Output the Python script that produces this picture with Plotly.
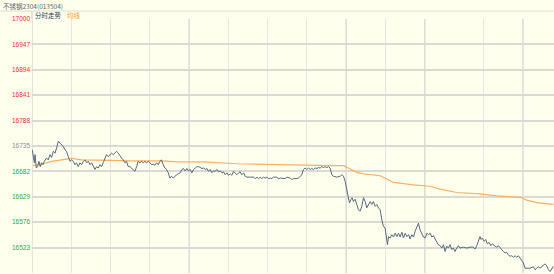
import plotly.graph_objects as go

# ---- data ----
title_text = "不锈钢2304(013504)"
legend_price = "分时走势"
legend_avg = "均线"
ref_price = 16735

price_t = [0.2, 1.0, 1.8, 2.3, 3.3, 4.3, 5.3, 6.3, 7.3, 8.4, 9.4, 11.1, 12.4, 13.7, 15.0, 16.3, 17.6, 18.8,
           20.1, 21.4, 22.6, 23.9, 25.2, 26.4, 27.7, 29.0, 30.2, 31.5, 32.8, 34.0, 35.3, 36.6, 37.9, 39.2,
           40.5, 41.7, 43.0, 44.3, 45.5, 46.8, 48.1, 49.3, 50.6, 51.9, 53.1, 54.4, 55.7, 56.9, 58.2, 59.5,
           60.8, 62.1, 63.4, 64.6, 65.9, 67.2, 68.4, 69.7, 71.0, 72.2, 73.5, 74.8, 76.0, 77.3, 78.6, 79.9,
           81.1, 82.4, 83.7, 85.0, 86.3, 87.5, 88.8, 90.1, 91.3, 92.6, 93.9, 95.1, 96.4, 97.7, 98.9, 100.2,
           101.5, 102.8, 104.1, 105.3, 106.6, 107.9, 109.2, 110.4, 111.7,
           113.2, 114.5, 115.7, 117.0, 118.3, 119.5, 120.8, 122.1, 123.4, 124.7, 126.0, 127.2, 128.5, 129.8,
           131.0, 132.3, 133.6, 134.8, 136.1, 137.4, 138.6, 139.9, 141.2, 142.5, 143.8, 145.1, 146.3, 147.6,
           148.9, 150.1, 151.4, 152.7, 153.9, 155.2, 156.5, 157.8, 159.0, 160.3, 161.6, 162.8, 164.1, 166.7,
           169.2, 170.5, 171.8, 173.0, 174.3, 175.6, 176.8, 178.1, 179.4, 180.6, 181.9, 183.2, 184.4, 187.0,
           188.3, 189.6, 192.1, 193.4, 194.7, 197.2, 198.5, 199.7, 202.3, 203.5, 206.1, 207.3, 208.6, 209.9,
           211.2, 212.5, 213.7, 215.0, 216.3, 217.6, 218.8, 220.1, 221.4, 222.6, 223.9, 225.2, 226.5, 227.7,
           229.0, 230.2, 232.8, 235.4, 236.7, 237.9, 239.2,
           240.5, 241.7, 242.5, 243.5, 244.5, 245.5, 246.8, 248.1, 249.3, 250.6, 251.9, 253.2, 254.5, 255.7,
           257.0, 258.3, 259.6, 260.8, 262.1, 263.4, 264.6, 265.9, 267.2, 268.4, 269.7, 270.5, 271.5, 272.3,
           273.5, 274.8, 276.1, 277.4, 278.7, 279.9, 281.2, 282.5, 283.7, 285.0, 286.3, 287.6, 288.8, 290.1,
           291.4, 292.6, 293.9, 295.2, 296.4, 297.7, 299.0, 300.3, 301.6, 302.8, 304.1, 305.4, 306.6, 307.9,
           309.2, 310.4, 311.7, 313.0, 314.3, 315.5, 316.8, 318.0, 319.3, 320.6, 321.8, 323.1, 324.4, 325.7,
           326.9, 329.5, 332.1, 334.6, 337.1, 338.4, 339.7, 340.9, 342.2, 343.0, 344.0, 345.3, 346.6, 347.8,
           349.1, 350.4, 351.6, 353.7, 355.0, 356.2, 357.5, 358.8, 360.0, 361.3, 362.6, 363.8, 365.1, 366.4,
           367.7, 368.9, 370.2, 371.5, 372.8, 374.1, 375.3, 376.6, 377.9, 380.4, 382.9, 384.2, 385.5, 386.7,
           388.0, 390.6, 391.9, 393.2, 394.4, 395.7, 397.0, 398.2]

price_v = [16727, 16710, 16700, 16717, 16689, 16692, 16703, 16692, 16700, 16696, 16703, 16710, 16706, 16717,
           16711, 16724, 16720, 16731, 16745, 16741, 16738, 16734, 16727, 16724, 16713, 16703, 16706, 16703,
           16696, 16700, 16692, 16700, 16696, 16703, 16706, 16700, 16703, 16696, 16700, 16692, 16686, 16692,
           16689, 16696, 16692, 16700, 16710, 16717, 16713, 16717, 16720, 16717, 16720, 16724, 16720, 16713,
           16710, 16706, 16700, 16703, 16692, 16692, 16689, 16686, 16682, 16692, 16703, 16700, 16703, 16700,
           16703, 16700, 16703, 16700, 16696, 16697, 16695, 16700, 16696, 16703, 16706, 16696, 16689, 16686,
           16679, 16668, 16672, 16668, 16672, 16675, 16677,
           16679, 16686, 16688, 16683, 16688, 16683, 16686, 16679, 16686, 16689, 16692, 16692, 16690, 16688,
           16689, 16686, 16688, 16682, 16686, 16679, 16683, 16682, 16686, 16681, 16683, 16679, 16681, 16675,
           16679, 16674, 16677, 16674, 16682, 16679, 16675, 16679, 16681, 16675, 16679, 16672, 16670, 16670,
           16670, 16667, 16670, 16667, 16670, 16667, 16670, 16668, 16670, 16667, 16668, 16667, 16670, 16670,
           16667, 16668, 16668, 16667, 16670, 16668, 16665, 16667, 16667, 16668, 16675, 16686, 16689, 16686,
           16689, 16686, 16688, 16686, 16689, 16688, 16690, 16689, 16692, 16690, 16692, 16690, 16692, 16689,
           16675, 16672, 16670, 16672, 16675, 16672, 16661,
           16644, 16630, 16616, 16623, 16627, 16619, 16624, 16613, 16602, 16599, 16609, 16627, 16619, 16606,
           16613, 16619, 16613, 16619, 16609, 16613, 16606, 16602, 16581, 16567, 16564, 16550, 16529, 16546,
           16543, 16550, 16545, 16553, 16546, 16553, 16545, 16555, 16543, 16553, 16546, 16550, 16541, 16550,
           16545, 16557, 16564, 16574, 16560, 16553, 16545, 16543, 16553, 16550, 16553, 16545, 16548, 16541,
           16533, 16529, 16527, 16522, 16529, 16515, 16526, 16522, 16529, 16519, 16522, 16515, 16522, 16527,
           16522, 16524, 16522, 16524, 16524, 16520, 16527, 16536, 16546, 16540, 16543, 16536, 16540, 16531,
           16534, 16527, 16531, 16526, 16524, 16527, 16522, 16519, 16515, 16512, 16513, 16508, 16505, 16506,
           16503, 16506, 16503, 16506, 16501, 16498, 16491, 16480, 16480, 16480, 16483, 16477, 16480, 16483,
           16480, 16487, 16489, 16485, 16477, 16473, 16480, 16484]

avg_t = [0.6, 7.3, 15.0, 22.6, 30.2, 37.9, 48.1, 60.8, 73.5, 86.3, 98.9, 111.7, 131.0, 156.5, 181.9,
         207.3, 232.8, 237.9, 243.0, 248.1, 253.2, 265.9, 271.0, 276.1, 291.4, 304.1, 311.7, 324.4, 342.2,
         355.0, 372.8, 377.9, 385.5, 398.2]
avg_v = [16694, 16697, 16703, 16706, 16709, 16706, 16706, 16705, 16704, 16704, 16704, 16702, 16702, 16698,
         16696, 16695, 16694, 16694, 16687, 16680, 16677, 16673, 16666, 16659, 16654, 16651, 16645, 16638,
         16635, 16631, 16628, 16622, 16617, 16613]

y_ticks = [17000, 16947, 16894, 16841, 16788, 16735, 16682, 16629, 16576, 16523]
y_min, y_max = 16470, 17000
x_max = 398.7
x_grid_minor = [30, 60, 90, 150, 180, 210, 270, 345]
x_grid_major = [0, 120, 240, 300, 375]

# ---- styling ----
BG = "#FFFFEE"
RED = "#FF2A2A"
GREEN = "#2EA82E"
GRAY = "#8C8C8C"
LINE = "#55697D"
AVG = "#FFB060"
FONT = "Liberation Sans"

def tick_label(v):
    c = RED if v > ref_price else (GREEN if v < ref_price else GRAY)
    return f'<span style="color:{c}">{v}</span>'

fig = go.Figure()
fig.add_trace(go.Scatter(x=avg_t, y=avg_v, mode="lines",
                         line=dict(color=AVG, width=1.2), hoverinfo="skip"))
fig.add_trace(go.Scatter(x=price_t, y=price_v, mode="lines",
                         line=dict(color=LINE, width=1.0), hoverinfo="skip"))

W, H = 554, 274
L, R, T, B = 32, 0, 19, 1
pw, ph = W - L - R, H - T - B

def px_x(p):  # pixel -> paper
    return (p - L) / pw

def px_y(p):
    return (H - B - p) / ph

shapes = []
for xv in x_grid_major:
    shapes.append(dict(type="line", xref="x", yref="paper", x0=xv, x1=xv, y0=0, y1=1,
                       line=dict(color="#DDDDD6", width=1.6), layer="below"))
# axis line extending into header
shapes.append(dict(type="line", xref="paper", yref="paper", x0=0, x1=0,
                   y0=1, y1=px_y(11), line=dict(color="#DDDDD6", width=1.6), layer="below"))
# header separator
shapes.append(dict(type="line", xref="paper", yref="paper", x0=px_x(0), x1=1,
                   y0=px_y(11), y1=px_y(11), line=dict(color="#DCDCD6", width=1)))

annotations = [
    dict(text=title_text, xref="paper", yref="paper", x=px_x(0.5), y=px_y(6),
         xanchor="left", yanchor="middle", showarrow=False,
         font=dict(family="Noto Sans CJK SC", size=6.5, color="#666666")),
    dict(text=legend_price, xref="paper", yref="paper", x=px_x(32.5), y=px_y(15.3),
         xanchor="left", yanchor="middle", showarrow=False,
         font=dict(family="Noto Sans CJK SC", size=6.5, color="#2E4156")),
    dict(text=legend_avg, xref="paper", yref="paper", x=px_x(64.5), y=px_y(15.3),
         xanchor="left", yanchor="middle", showarrow=False,
         font=dict(family="Noto Sans CJK SC", size=6.5, color="#FF9A2E")),
]

fig.update_layout(
    width=W, height=H,
    margin=dict(l=L, r=R, t=T, b=B, pad=0),
    paper_bgcolor=BG, plot_bgcolor=BG,
    showlegend=False,
    shapes=shapes,
    annotations=annotations,
    xaxis=dict(range=[0, x_max], tickvals=x_grid_minor, showticklabels=False,
               showgrid=True, gridcolor="#E6E6DE", gridwidth=1, zeroline=False,
               showline=False, ticks="", fixedrange=True),
    yaxis=dict(range=[y_min, y_max], tickvals=y_ticks, ticktext=[tick_label(v) for v in y_ticks],
               showgrid=True, gridcolor="#DADAD4", gridwidth=1.5, zeroline=False,
               showline=False, ticks="", ticklabelstandoff=1,
               tickfont=dict(family=FONT, size=6.5), fixedrange=True),
)

fig.write_html("out.html")
